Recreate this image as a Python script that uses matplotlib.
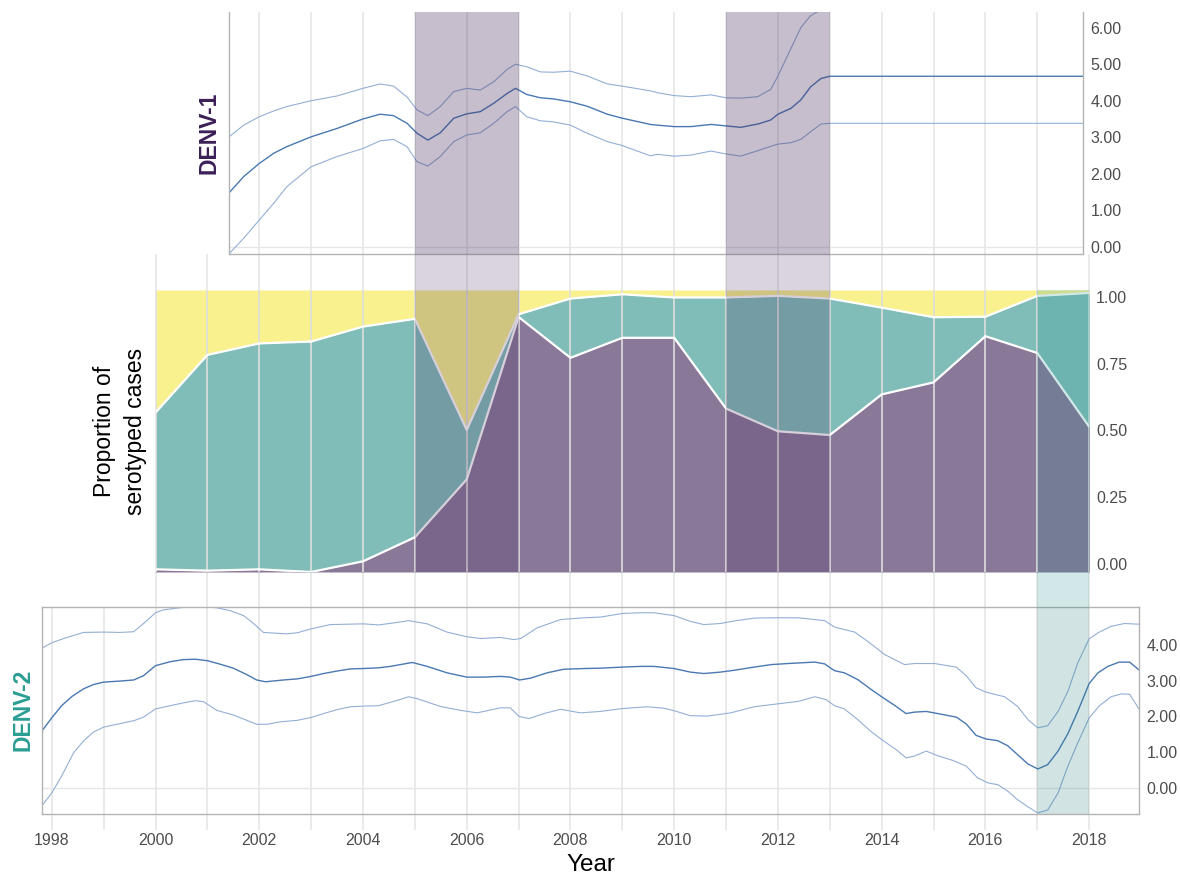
import numpy as np
import matplotlib
matplotlib.use('Agg')
import matplotlib.pyplot as plt

plt.rcParams['font.family'] = ['Liberation Sans', 'DejaVu Sans']

# ---- middle panel: proportion of serotyped cases ----
prop_years = list(range(2000, 2019))
denv1_prop = [-0.02, -0.025, -0.02, -0.03, 0.01, 0.10, 0.317, 0.925, 0.772, 0.847,
              0.847, 0.582, 0.497, 0.483, 0.635, 0.68, 0.853, 0.79, 0.514]
denv2_prop = [0.587, 0.808, 0.846, 0.863, 0.879, 0.818, 0.185, 0.01, 0.222, 0.163,
              0.151, 0.416, 0.507, 0.511, 0.325, 0.244, 0.073, 0.214, 0.501]

# ---- top panel: DENV-1 ----
d1_x = [2001.41, 2001.70, 2002.0, 2002.28, 2002.53, 2003.0, 2003.5, 2004.0, 2004.33, 2004.59,
        2004.85, 2005.04, 2005.25, 2005.49, 2005.75, 2006.0, 2006.26, 2006.52, 2006.78, 2006.94,
        2007.16, 2007.42, 2007.67, 2008.0, 2008.32, 2008.71, 2009.0, 2009.54, 2009.68, 2010.0,
        2010.32, 2010.71, 2011.0, 2011.28, 2011.61, 2011.86, 2012.0, 2012.25, 2012.44, 2012.63,
        2012.83, 2013.0, 2018.0]
d1_mid = [1.46, 1.92, 2.28, 2.56, 2.74, 3.01, 3.24, 3.50, 3.63, 3.59,
          3.38, 3.11, 2.92, 3.12, 3.52, 3.64, 3.70, 3.93, 4.20, 4.34,
          4.17, 4.08, 4.05, 3.97, 3.85, 3.63, 3.52, 3.35, 3.33, 3.29,
          3.29, 3.35, 3.31, 3.27, 3.36, 3.47, 3.63, 3.79, 4.02, 4.38,
          4.61, 4.67, 4.67]
d1_hi = [3.00, 3.33, 3.56, 3.72, 3.84, 4.00, 4.13, 4.34, 4.46, 4.40,
         4.10, 3.75, 3.59, 3.84, 4.25, 4.34, 4.29, 4.52, 4.86, 5.00,
         4.93, 4.79, 4.78, 4.81, 4.68, 4.46, 4.40, 4.27, 4.22, 4.14,
         4.11, 4.16, 4.08, 4.07, 4.11, 4.31, 4.68, 5.43, 6.00, 6.33,
         6.50, 6.60, 6.60]
d1_lo = [-0.21, 0.23, 0.73, 1.19, 1.64, 2.19, 2.47, 2.69, 2.90, 2.94,
         2.74, 2.33, 2.21, 2.47, 2.88, 3.06, 3.12, 3.38, 3.70, 3.84,
         3.56, 3.45, 3.42, 3.33, 3.11, 2.88, 2.77, 2.49, 2.53, 2.48,
         2.51, 2.62, 2.54, 2.48, 2.63, 2.75, 2.81, 2.85, 2.94, 3.15,
         3.36, 3.38, 3.38]

# ---- bottom panel: DENV-2 ----
d2_mid_x = [1997.82, 1998.0, 1998.19, 1998.39, 1998.61, 1998.80, 1999.0, 1999.32, 1999.58, 1999.77,
            2000.0, 2000.28, 2000.54, 2000.77, 2001.0, 2001.25, 2001.5, 2001.76, 2001.95, 2002.12,
            2002.47, 2002.73, 2003.0, 2003.24, 2003.5, 2003.76, 2004.01, 2004.3, 2004.53, 2004.72,
            2004.95, 2005.24, 2005.62, 2006.0, 2006.33, 2006.65, 2006.84, 2007.02, 2007.23, 2007.55,
            2007.87, 2008.26, 2008.58, 2009.0, 2009.35, 2009.61, 2010.0, 2010.31, 2010.57, 2010.89,
            2011.15, 2011.54, 2011.87, 2012.19, 2012.71, 2012.90, 2013.09, 2013.28, 2013.54, 2013.80,
            2014.06, 2014.25, 2014.47, 2014.63, 2014.86, 2015.08, 2015.44, 2015.63, 2015.82, 2016.01,
            2016.24, 2016.43, 2016.62, 2016.82, 2017.01, 2017.20, 2017.40, 2017.59, 2017.78, 2018.0,
            2018.17, 2018.36, 2018.58, 2018.78, 2018.97]
d2_mid = [1.61, 1.96, 2.30, 2.56, 2.77, 2.89, 2.96, 2.99, 3.02, 3.14,
          3.42, 3.53, 3.59, 3.60, 3.56, 3.46, 3.35, 3.17, 3.02, 2.97,
          3.02, 3.05, 3.12, 3.20, 3.27, 3.33, 3.34, 3.36, 3.40, 3.45,
          3.51, 3.40, 3.22, 3.10, 3.10, 3.12, 3.10, 3.02, 3.07, 3.22,
          3.32, 3.34, 3.35, 3.38, 3.40, 3.40, 3.34, 3.24, 3.20, 3.24,
          3.29, 3.38, 3.45, 3.48, 3.52, 3.47, 3.28, 3.22, 3.03, 2.75,
          2.49, 2.31, 2.08, 2.12, 2.14, 2.08, 1.98, 1.79, 1.47, 1.37,
          1.32, 1.18, 0.93, 0.67, 0.53, 0.65, 1.03, 1.52, 2.14, 2.92,
          3.22, 3.40, 3.52, 3.52, 3.29]
d2_hi_x = [1997.82, 1998.0, 1998.23, 1998.61, 1999.0, 1999.32, 1999.58, 1999.77, 2000.0, 2000.15,
           2000.41, 2000.67, 2000.93, 2001.18, 2001.44, 2001.70, 2001.89, 2002.08, 2002.53, 2002.73,
           2003.0, 2003.37, 2004.01, 2004.30, 2004.66, 2004.88, 2005.24, 2005.62, 2006.0, 2006.27,
           2006.65, 2006.91, 2007.04, 2007.36, 2007.81, 2008.26, 2008.58, 2009.0, 2009.35, 2009.61,
           2010.0, 2010.31, 2010.57, 2010.89, 2011.15, 2011.54, 2011.87, 2012.39, 2012.90, 2013.09,
           2013.48, 2013.73, 2014.06, 2014.44, 2014.63, 2015.02, 2015.44, 2015.63, 2015.82, 2016.01,
           2016.37, 2016.62, 2016.82, 2017.01, 2017.20, 2017.40, 2017.59, 2017.78, 2018.0, 2018.17,
           2018.42, 2018.68, 2018.97]
d2_hi = [3.92, 4.06, 4.18, 4.35, 4.36, 4.35, 4.37, 4.60, 4.90, 4.98,
         5.03, 5.07, 5.07, 5.04, 4.96, 4.82, 4.60, 4.35, 4.31, 4.34,
         4.45, 4.57, 4.59, 4.56, 4.63, 4.68, 4.59, 4.36, 4.23, 4.18,
         4.21, 4.15, 4.18, 4.48, 4.71, 4.76, 4.78, 4.88, 4.90, 4.90,
         4.82, 4.66, 4.57, 4.60, 4.67, 4.75, 4.76, 4.76, 4.68, 4.50,
         4.36, 4.10, 3.73, 3.45, 3.48, 3.48, 3.38, 3.14, 2.80, 2.68,
         2.55, 2.28, 1.91, 1.68, 1.74, 2.14, 2.70, 3.50, 4.17, 4.34,
         4.52, 4.60, 4.58]
d2_lo_x = [1997.82, 1998.0, 1998.19, 1998.42, 1998.61, 1998.80, 1999.0, 1999.25, 1999.58, 1999.77,
           2000.0, 2000.28, 2000.54, 2000.77, 2000.93, 2001.18, 2001.50, 2001.76, 2001.95, 2002.15,
           2002.41, 2002.73, 2003.0, 2003.24, 2003.50, 2003.76, 2004.01, 2004.30, 2004.66, 2004.88,
           2005.04, 2005.49, 2005.88, 2006.20, 2006.65, 2006.84, 2007.01, 2007.20, 2007.49, 2007.81,
           2008.19, 2008.58, 2009.0, 2009.48, 2009.80, 2010.0, 2010.31, 2010.64, 2011.09, 2011.54,
           2011.87, 2012.39, 2012.71, 2012.93, 2013.09, 2013.28, 2013.54, 2013.80, 2014.06, 2014.28,
           2014.47, 2014.63, 2014.86, 2015.08, 2015.37, 2015.63, 2015.85, 2016.05, 2016.24, 2016.43,
           2016.62, 2016.82, 2017.01, 2017.20, 2017.40, 2017.59, 2017.78, 2018.0, 2018.20, 2018.42,
           2018.62, 2018.78, 2018.97]
d2_lo = [-0.48, -0.14, 0.33, 0.98, 1.31, 1.56, 1.70, 1.78, 1.88, 1.98,
         2.21, 2.30, 2.38, 2.44, 2.41, 2.17, 2.04, 1.89, 1.78, 1.78,
         1.85, 1.89, 1.97, 2.08, 2.19, 2.27, 2.29, 2.30, 2.45, 2.55,
         2.50, 2.28, 2.17, 2.10, 2.24, 2.24, 2.00, 1.94, 2.08, 2.20,
         2.10, 2.14, 2.22, 2.27, 2.23, 2.16, 2.02, 2.01, 2.10, 2.27,
         2.33, 2.42, 2.55, 2.47, 2.30, 2.21, 1.91, 1.57, 1.29, 1.07,
         0.84, 0.89, 1.03, 0.90, 0.77, 0.61, 0.28, 0.14, 0.09, -0.09,
         -0.33, -0.53, -0.70, -0.62, -0.14, 0.61, 1.26, 1.96, 2.30, 2.55,
         2.63, 2.62, 2.19]

denv1_periods = [(2005, 2007), (2011, 2013)]
denv2_periods = [(2017, 2018)]

# ---- layout (pixels) ----
W, H = 1180, 885
PX2000, PPY = 155.5, 51.87


def px(year):
    return PX2000 + PPY * (year - 2000)


def yr(p):
    return 2000 + (p - PX2000) / PPY


def panel(x0, x1, ytop, ybot):
    a = fig.add_axes([px(x0) / W, 1 - ybot / H, (px(x1) - px(x0)) / W, (ybot - ytop) / H])
    a.set_xlim(x0, x1)
    a.patch.set_alpha(0)
    return a


GRID = '#e6e6e6'
SPINE = '#b3b3b3'
TXT = '#4d4d4d'
MID_C = '#4a79b2'
BND_C = '#93afd5'
PURPLE = '#45285a'
TEAL = '#21908c'

fig = plt.figure(figsize=(W / 100, H / 100), dpi=100)

top_y = (11.7, 254.3)
mid_y = (290, 572)
bot_y = (606.7, 814)

bg = fig.add_axes([0, 0, 1, 1], zorder=-1)
bg.set_xlim(yr(0), yr(W))
bg.set_ylim(H, 0)
bg.axis('off')
for y in range(1998, 2019):
    if 2002 <= y <= 2017:
        start = top_y[0]
    elif y >= 2000:
        start = top_y[1]
    else:
        start = bot_y[0]
    bg.plot([y, y], [start, 830], color=GRID, lw=1.2, solid_capstyle='butt')

ax1 = panel(2001.41, 2017.89, *top_y)
ax2 = panel(2000, 2018, *mid_y)
ax3 = panel(1997.82, 2018.97, *bot_y)

# top panel
ax1.set_ylim(-0.21, 6.44)
ax1.axhline(0, color=GRID, lw=1)
ax1.plot(d1_x, d1_hi, color=BND_C, lw=0.8)
ax1.plot(d1_x, d1_lo, color=BND_C, lw=0.8)
ax1.plot(d1_x, d1_mid, color=MID_C, lw=1.0)
for a, b in denv1_periods:
    ax1.axvspan(a, b, color=PURPLE, alpha=0.30, lw=0, zorder=5)
ax1.set_yticks(np.arange(0, 7))

# middle panel
d1 = np.array(denv1_prop)
d12 = d1 + np.array(denv2_prop)
ylo, yhi = -0.03, 1.026
ax2.set_ylim(ylo, yhi)
ax2.fill_between(prop_years, ylo, d1, color='#8a7898', lw=0)
ax2.fill_between(prop_years, d1, d12, color='#80bdb9', lw=0)
ax2.fill_between(prop_years, d12, yhi, color='#f8f18d', lw=0)
for y in prop_years:
    ax2.axvline(y, color='#dedede', lw=1.2, zorder=3)
ax2.plot(prop_years, d1, color='white', lw=1.6, zorder=4)
ax2.plot(prop_years, d12, color='white', lw=1.6, zorder=4)
for a, b in denv1_periods:
    ax2.axvspan(a, b, color=PURPLE, alpha=0.22, lw=0, zorder=5)
for a, b in denv2_periods:
    ax2.axvspan(a, b, color=TEAL, alpha=0.20, lw=0, zorder=5)
ax2.set_yticks([0, 0.25, 0.5, 0.75, 1.0])

# bottom panel
ax3.set_ylim(-0.73, 5.07)
ax3.axhline(0, color=GRID, lw=1)
ax3.plot(d2_hi_x, d2_hi, color=BND_C, lw=0.8)
ax3.plot(d2_lo_x, d2_lo, color=BND_C, lw=0.8)
ax3.plot(d2_mid_x, d2_mid, color=MID_C, lw=1.0)
for a, b in denv2_periods:
    ax3.axvspan(a, b, color='#2a7f7f', alpha=0.21, lw=0, zorder=5)
ax3.set_yticks(np.arange(0, 5))
ax3.set_xticks(range(1998, 2019, 2))

for a in (ax1, ax2, ax3):
    a.yaxis.tick_right()
    a.yaxis.set_major_formatter(matplotlib.ticker.FormatStrFormatter('%.2f'))
    a.tick_params(axis='y', length=0, labelsize=11.5, labelcolor=TXT, pad=5)
    for s in a.spines.values():
        s.set_color(SPINE)
        s.set_linewidth(1)
for a in (ax1, ax2):
    a.set_xticks([])
ax1.spines['top'].set_visible(False)
for s in ax2.spines.values():
    s.set_visible(False)
ax3.tick_params(axis='x', length=0, labelsize=11.5, labelcolor=TXT, pad=14)

ax1.set_ylabel('DENV-1', fontsize=16.5, fontweight='bold', color='#3b1f57', labelpad=6)
ax2.set_ylabel('Proportion of\nserotyped cases', fontsize=16.5, color='black', labelpad=6,
               linespacing=1.45)
ax3.set_ylabel('DENV-2', fontsize=16.5, fontweight='bold', color='#2a9d93', labelpad=6)
ax3.set_xlabel('Year', fontsize=17.5, color='black', labelpad=4)
for a in (ax1, ax2, ax3):
    a.yaxis.set_label_position('left')

# highlight bands in the gaps between panels
fg = fig.add_axes([0, 0, 1, 1], zorder=10)
fg.set_xlim(yr(0), yr(W))
fg.set_ylim(H, 0)
fg.axis('off')
fg.patch.set_alpha(0)
for a, b in denv1_periods:
    fg.fill_between([a, b], top_y[1], mid_y[0], color=PURPLE, alpha=0.20, lw=0)
for a, b in denv2_periods:
    fg.fill_between([a, b], mid_y[1], bot_y[0], color=TEAL, alpha=0.20, lw=0)

fig.savefig('out.png', dpi=100)
